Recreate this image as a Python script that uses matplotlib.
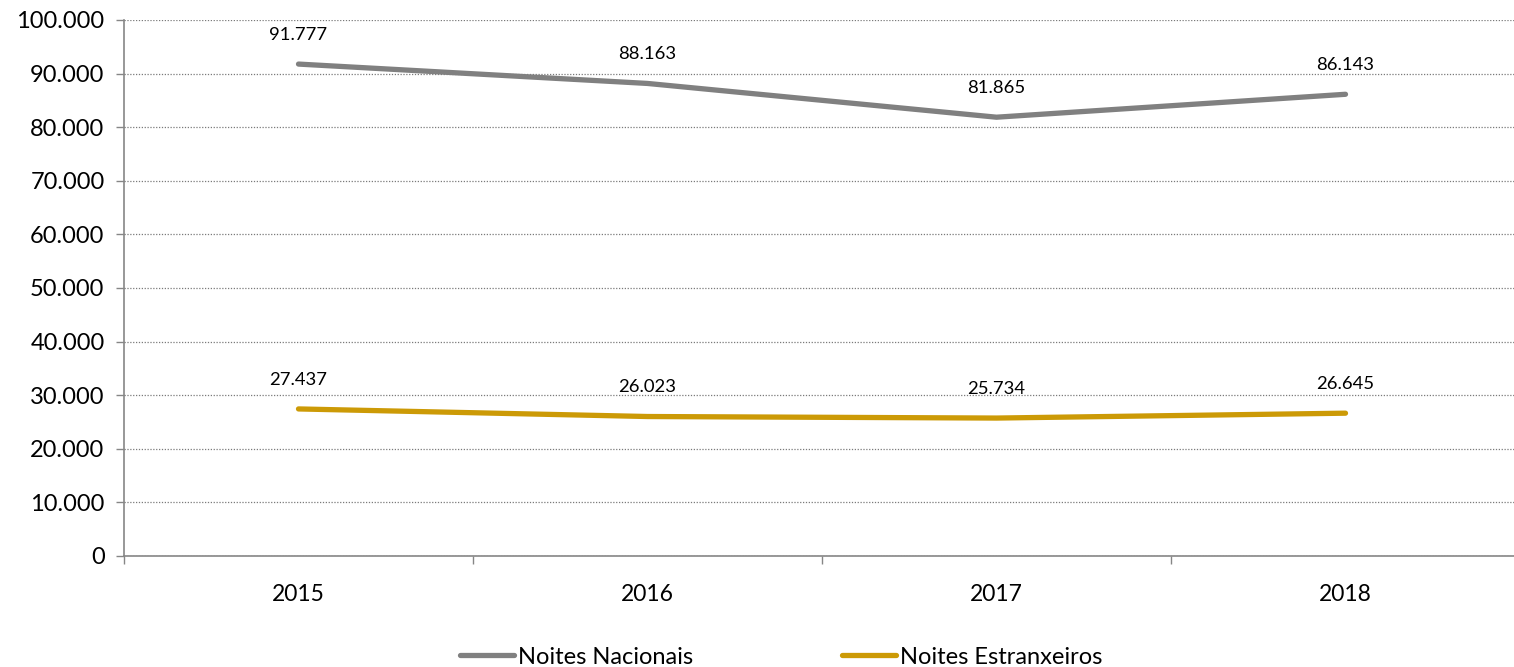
import matplotlib.pyplot as plt
from matplotlib.ticker import FuncFormatter

years = ["2015", "2016", "2017", "2018"]
nacionais = [91777, 88163, 81865, 86143]
estrangeiros = [27437, 26023, 25734, 26645]

plt.rcParams["font.family"] = ["Lato", "DejaVu Sans"]


def fmt(v, pos=None):
    return f"{int(v):,}".replace(",", ".")


fig = plt.figure(figsize=(15.14, 6.67), dpi=100)
W, H = 1514, 667
ax = fig.add_axes([124 / W, 1 - 556 / H, (1520 - 124) / W, (556 - 20) / H])

x = list(range(len(years)))
ax.plot(x, nacionais, color="#808080", lw=3.8, solid_capstyle="round", label="Noites Nacionais")
ax.plot(x, estrangeiros, color="#CC9A06", lw=3.8, solid_capstyle="round", label="Noites Estranxeiros")

for xi, v in zip(x, nacionais):
    ax.annotate(fmt(v), (xi, v), xytext=(0, 21), textcoords="offset points",
                ha="center", va="center", fontsize=13.3)
for xi, v in zip(x, estrangeiros):
    ax.annotate(fmt(v), (xi, v), xytext=(0, 21), textcoords="offset points",
                ha="center", va="center", fontsize=13.3)

ax.set_xlim(-0.5, 3.5)
ax.set_ylim(0, 100000)
ax.set_yticks(range(0, 100001, 10000))
ax.yaxis.set_major_formatter(FuncFormatter(fmt))
ax.set_xticks([-0.5, 0.5, 1.5, 2.5, 3.5])
ax.set_xticklabels([])
ax.set_xticks(x, minor=True)
ax.set_xticklabels(years, minor=True)
ax.tick_params(axis="x", which="minor", length=0, pad=20, labelsize=16.5)
ax.tick_params(axis="x", which="major", length=6, color="#868686", width=1)
ax.tick_params(axis="y", length=6, color="#868686", width=1, labelsize=17, pad=8)

ax.grid(axis="y", which="major", linestyle=(0, (1, 1.3)), color="#7a7a7a", lw=0.9)
ax.set_axisbelow(True)
for s in ["top", "right"]:
    ax.spines[s].set_visible(False)
for s in ["left", "bottom"]:
    ax.spines[s].set_color("#868686")
    ax.spines[s].set_linewidth(1.2)

fig.legend(loc="center", bbox_to_anchor=(781 / W, 1 - 657 / H), ncol=2, frameon=False,
           fontsize=17, handlelength=2.3, handletextpad=0.15, columnspacing=6.3)

fig.savefig("out.png", dpi=100)
